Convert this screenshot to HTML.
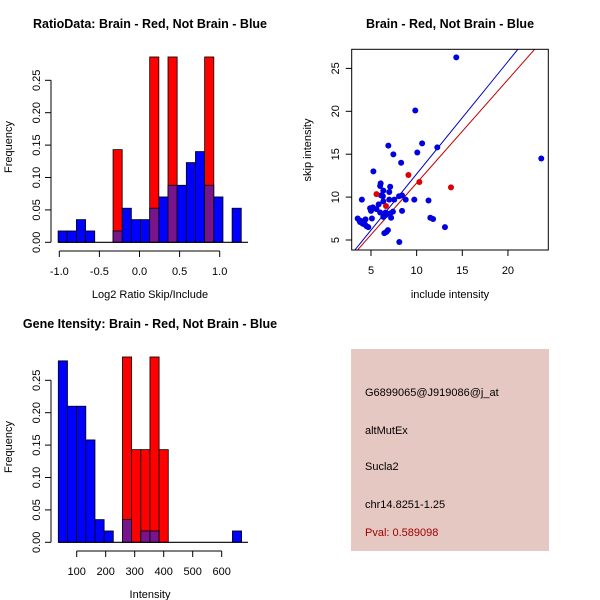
<!DOCTYPE html>
<html><head><meta charset="utf-8"><style>
body{margin:0;background:#fff;}
svg{display:block;font-family:"Liberation Sans",sans-serif;}
</style></head><body>
<svg id="c" width="600" height="600" viewBox="0 0 600 600">
<rect width="600" height="600" fill="#fff"/>
<g id="p1"></g>
<g id="p2"></g>
<g id="p3"></g>
<g id="p4">
<rect x="351" y="349" width="198" height="202" fill="#e6c8c2"/>
<text x="365" y="396" font-size="11" fill="#000">G6899065@J919086@j_at</text>
<text x="365" y="434" font-size="11" fill="#000">altMutEx</text>
<text x="365" y="470" font-size="11" fill="#000">Sucla2</text>
<text x="365" y="508" font-size="11" fill="#000">chr14.8251-1.25</text>
<text x="365" y="536" font-size="11" fill="#a00000">Pval: 0.589098</text>
</g>
</svg>
<script>
// Ratio histogram data
const ratioBreakStart = -1.015;
const ratioBinWidth = 0.1142;
const ratioBlue = [0.0175,0.0175,0.035,0.0175,0,0,0.0175,0.0526,0.035,0.035,0.0526,0.070,0.088,0.088,0.123,0.140,0.088,0.070,0,0.0526];
const ratioRed  = [0,0,0,0,0,0,0.143,0,0,0,0.286,0,0.286,0,0,0,0.286,0,0,0];
const ratioXTicks = [-1.0,-0.5,0.0,0.5,1.0];
const ratioXLabels = ["-1.0","-0.5","0.0","0.5","1.0"];
const freqTicks = [0,0.05,0.10,0.15,0.20,0.25];
const freqLabels = ["0.00","0.05","0.10","0.15","0.20","0.25"];
// Gene intensity histogram data
const intBreakStart = 36.6;
const intBinWidth = 31.6;
const intBlue = [0.280,0.210,0.210,0.158,0.035,0.0175,0,0.035,0,0.0175,0.0175,0,0,0,0,0,0,0,0,0.0175];
const intRed  = [0,0,0,0,0,0,0,0.286,0.143,0.143,0.286,0.143,0,0,0,0,0,0,0,0];
const intXTicks = [100,200,300,400,500,600];
// Scatter data
const blueX = [14.34,9.85,23.65,6.9,7.45,10.6,12.26,10.07,8.3,5.26,6.06,6.0,7.1,6.35,7.0,4.0,6.1,6.3,8.07,8.4,9.74,8.8,7.0,7.55,11.3,6.35,5.84,4.9,5.0,5.6,6.0,6.6,7.4,8.4,5.1,6.35,7.1,7.2,11.5,11.8,13.1,3.54,3.72,3.97,4.15,4.34,4.52,4.7,6.46,6.7,6.85,8.1,3.8,4.1,4.4,5.2,6.6];
const blueY = [26.28,20.1,14.5,16.0,14.98,16.26,15.8,15.2,14.0,13.0,11.6,11.3,11.2,10.75,10.6,9.7,10.2,10.1,10.1,10.2,9.7,9.7,9.7,9.7,9.6,9.5,9.15,8.7,8.4,8.6,8.2,8.2,8.3,8.4,7.5,7.7,8.1,7.6,7.6,7.45,6.5,7.5,7.3,7.2,7.0,6.8,6.6,6.5,5.8,5.95,6.15,4.77,7.1,6.9,7.4,8.8,7.9];
const redX = [5.6,6.64,9.1,10.3,13.76];
const redY = [10.35,8.96,12.57,11.76,11.14];
const blueFit = [-0.4,1.31];
const redFit = [-0.42,1.206];
const scXTicks = [5,10,15,20];
const scYTicks = [5,10,15,20,25];

const NS="http://www.w3.org/2000/svg";
function mk(parent,tag,attrs,txt){const e=document.createElementNS(NS,tag);for(const k in attrs)e.setAttribute(k,attrs[k]);if(txt!==undefined)e.textContent=txt;parent.appendChild(e);return e;}
const PURPLE="#78148c";

function hist(gid,title,oy,xv,breakStart,binW,blue,red,xt,xl,xtitle){
  const g=document.getElementById(gid);
  const yv=v=>oy+242.3-v*648;
  let t=mk(g,'text',{x:150,y:oy+28,'font-size':12.5,'font-weight':'bold','text-anchor':'middle'},title);
  
  
  let ya=mk(g,'line',{x1:51,x2:51,y1:yv(0),y2:yv(0.25),stroke:'#000'});
  
  
  freqTicks.forEach((v,i)=>{
    mk(g,'line',{x1:45,x2:51,y1:yv(v),y2:yv(v),stroke:'#000'});
    let l=mk(g,'text',{x:0,y:0,'font-size':11,'text-anchor':'middle',transform:`translate(40,${yv(v)}) rotate(-90)`},freqLabels[i]);
    
    
  });
  let yt=mk(g,'text',{x:0,y:0,'font-size':11,'text-anchor':'middle',transform:`translate(12,${oy+147}) rotate(-90)`},'Frequency');
  
  
  for(let i=0;i<blue.length;i++){
    const xa=xv(breakStart+i*binW), xb=xv(breakStart+(i+1)*binW);
    if(red[i]>0){
      let r=mk(g,'rect',{x:xa,y:yv(red[i]),width:xb-xa,height:yv(0)-yv(red[i]),fill:'#ff0000',stroke:'#000','stroke-width':0.8});
      
      
    }
    if(blue[i]>0){
      let b=mk(g,'rect',{x:xa,y:yv(blue[i]),width:xb-xa,height:yv(0)-yv(blue[i]),fill:red[i]>0?PURPLE:'#0000ff',stroke:'#000','stroke-width':0.8});
      
      
    }
  }
  mk(g,'line',{x1:xv(breakStart),x2:248,y1:yv(0),y2:yv(0),stroke:'#000','stroke-width':1.2});
  const ay=oy+251;
  let xa=mk(g,'line',{x1:xv(xt[0]),x2:xv(xt[xt.length-1]),y1:ay,y2:ay,stroke:'#000'});
  
  
  xt.forEach((v,i)=>{
    mk(g,'line',{x1:xv(v),x2:xv(v),y1:ay,y2:ay+6,stroke:'#000'});
    let l=mk(g,'text',{x:xv(v),y:ay+24,'font-size':11,'text-anchor':'middle'},xl[i]);
    
    
  });
  let xtt=mk(g,'text',{x:150,y:oy+298,'font-size':11,'text-anchor':'middle'},xtitle);
  
  
}
hist('p1','RatioData: Brain - Red, Not Brain - Blue',0,v=>59.3+(v+1)*80.2,ratioBreakStart,ratioBinWidth,ratioBlue,ratioRed,ratioXTicks,ratioXLabels,'Log2 Ratio Skip/Include');
hist('p3','Gene Itensity: Brain - Red, Not Brain - Blue',300,v=>76.7+(v-100)*0.29,intBreakStart,intBinWidth,intBlue,intRed,intXTicks,intXTicks.map(String),'Intensity');

(function(){
  const g=document.getElementById('p2');
  const sx=v=>371+(v-5)*9.13, sy=v=>240-(v-5)*8.58;
  let t=mk(g,'text',{x:450,y:28,'font-size':12.5,'font-weight':'bold','text-anchor':'middle'},'Brain - Red, Not Brain - Blue');
  
  
  const L=351.7,R=548.3,T=49.3,B=250;
  let cp=mk(g,'clipPath',{id:'scclip'});mk(cp,'rect',{x:L,y:T,width:R-L,height:B-T});
  const cl=mk(g,'g',{'clip-path':'url(#scclip)'});
  const xmin=(L-371)/9.13+5,xmax=(R-371)/9.13+5;
  [[blueFit,'#0000c0','blue-fit-line'],[redFit,'#c00000','red-fit-line']].forEach(([f,c,n])=>{
    let l=mk(cl,'line',{x1:sx(xmin),y1:sy(f[0]+f[1]*xmin),x2:sx(xmax),y2:sy(f[0]+f[1]*xmax),stroke:c,'stroke-width':1});
    
    
  });
  blueX.forEach((x,i)=>{
    let c=mk(cl,'circle',{cx:sx(x),cy:sy(blueY[i]),r:3,fill:'#0000e0'});
    
    
  });
  redX.forEach((x,i)=>{
    let c=mk(cl,'circle',{cx:sx(x),cy:sy(redY[i]),r:3,fill:'#e00000'});
    
    
  });
  let box=mk(g,'rect',{x:L,y:T,width:R-L,height:B-T,fill:'none',stroke:'#000'});
  
  
  scXTicks.forEach(v=>{
    mk(g,'line',{x1:sx(v),x2:sx(v),y1:B,y2:B+6,stroke:'#000'});
    let l=mk(g,'text',{x:sx(v),y:B+24,'font-size':11,'text-anchor':'middle'},String(v));
    
    
  });
  scYTicks.forEach(v=>{
    mk(g,'line',{x1:L-6,x2:L,y1:sy(v),y2:sy(v),stroke:'#000'});
    let l=mk(g,'text',{x:0,y:0,'font-size':11,'text-anchor':'middle',transform:`translate(339,${sy(v)}) rotate(-90)`},String(v));
    
    
  });
  let xt=mk(g,'text',{x:450,y:298,'font-size':11,'text-anchor':'middle'},'include intensity');
  
  
  let yt=mk(g,'text',{x:0,y:0,'font-size':11,'text-anchor':'middle',transform:'translate(311,150) rotate(-90)'},'skip intensity');
  
  
})();
</script>
</body></html>
